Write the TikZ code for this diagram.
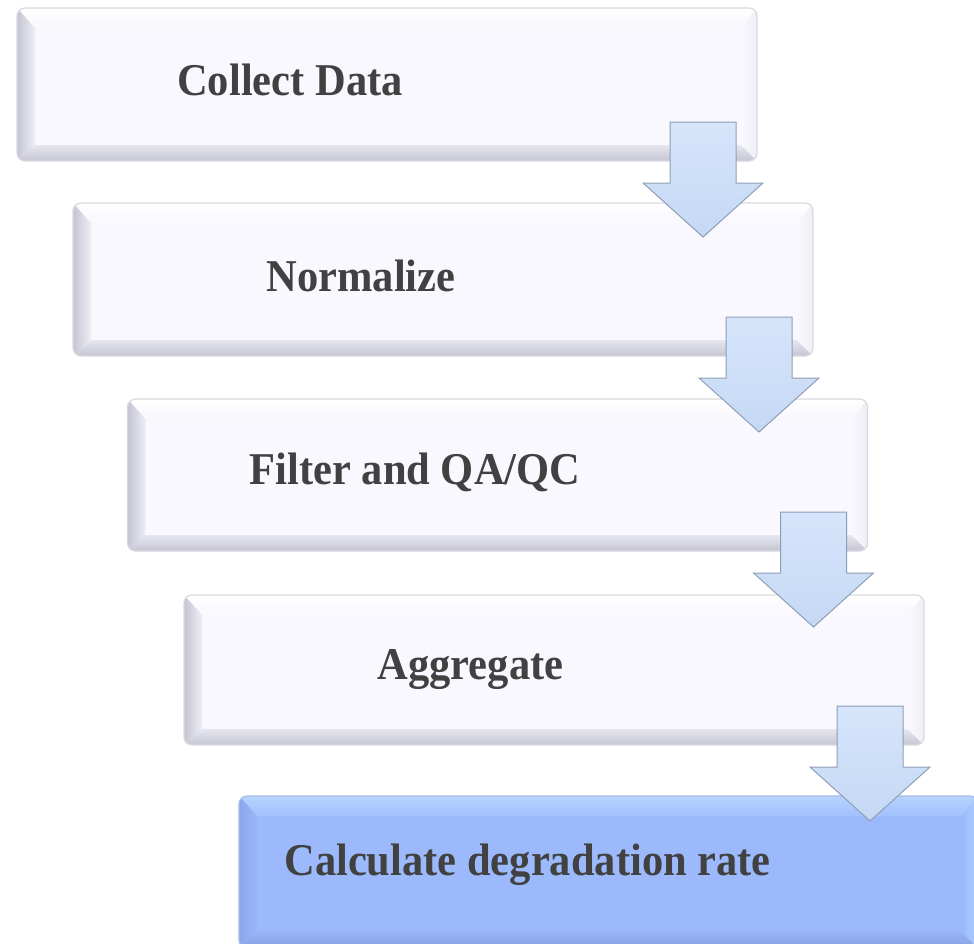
\documentclass[tikz,border=0pt]{standalone}
\usepackage{fontspec}
\setmainfont{Liberation Serif}
\usetikzlibrary{calc}

% lavender bevel palette for the ordinary steps
\definecolor{lavface}{HTML}{F8F8FE}
\definecolor{lavtopo}{HTML}{FFFFFF}
\definecolor{lavtopi}{HTML}{F8F8FE}
\definecolor{lavlefto}{HTML}{C4C4D4}
\definecolor{lavlefti}{HTML}{EEEEF5}
\definecolor{lavboto}{HTML}{C6C6D4}
\definecolor{lavboti}{HTML}{E6E6EF}
\definecolor{lavrighto}{HTML}{EEEEF5}
\definecolor{lavrighti}{HTML}{F8F8FE}
\definecolor{lavrim}{HTML}{D8D8E0}
% blue bevel palette for the final step
\definecolor{skyface}{HTML}{9BB9FB}
\definecolor{skytopo}{HTML}{B6D4FF}
\definecolor{skytopi}{HTML}{A2C0FC}
\definecolor{skylefto}{HTML}{8CA6EC}
\definecolor{skylefti}{HTML}{9AB7F8}
\definecolor{skyboto}{HTML}{88A0E4}
\definecolor{skyboti}{HTML}{98B4F6}
\definecolor{skyrighto}{HTML}{AECCFF}
\definecolor{skyrighti}{HTML}{9CBAFB}
\definecolor{skyrim}{HTML}{A6BCE8}
% block arrows and text
\definecolor{arrtop}{HTML}{D6E5FB}
\definecolor{arrbot}{HTML}{C5D8F4}
\definecolor{arredge}{HTML}{8E9EB6}
\definecolor{txt}{HTML}{414141}

\tikzset{
  boxnode/.style={inner sep=0pt, outer sep=0pt, minimum width=#1},
  boxnode/.default=740pt,
  steplabel/.style={anchor=base, inner sep=0pt, text=txt, yscale=1.07,
    font=\fontsize{42.5pt}{50pt}\selectfont\bfseries},
  blockarrow/.style={top color=arrtop, bottom color=arrbot,
    draw=arredge, line width=1pt, line join=miter},
}

% bevelled rounded panel drawn over the area of node #1, colours prefixed #2
\newcommand\bevelbox[2]{%
  \begin{scope}
    \clip[rounded corners=8pt] (#1.south west) rectangle (#1.north east);
    \fill[#2face] (#1.south west) rectangle (#1.north east);
    \shade[top color=#2topo, bottom color=#2topi]
      (#1.north west) -- (#1.north east) -- ($(#1.north east)+(-16,20)$)
      -- ($(#1.north west)+(18,20)$) -- cycle;
    \shade[left color=#2lefto, right color=#2lefti]
      (#1.north west) -- ($(#1.north west)+(18,20)$)
      -- ($(#1.south west)+(18,-16)$) -- (#1.south west) -- cycle;
    \shade[top color=#2boti, bottom color=#2boto]
      (#1.south west) -- ($(#1.south west)+(18,-16)$)
      -- ($(#1.south east)+(-16,-16)$) -- (#1.south east) -- cycle;
    \shade[left color=#2righti, right color=#2righto]
      (#1.north east) -- (#1.south east) -- ($(#1.south east)+(-16,-16)$)
      -- ($(#1.north east)+(-16,20)$) -- cycle;
  \end{scope}
  \draw[#2rim, line width=1.2pt, rounded corners=8pt]
    (#1.south west) rectangle (#1.north east);
}

% downward block arrow whose shaft top centre is coordinate #1
\newcommand\blockdown[1]{%
  \draw[blockarrow] ($(#1)+(-33,0)$) -- ($(#1)+(33,0)$) -- ($(#1)+(33,61)$)
    -- ($(#1)+(60,61)$) -- ($(#1)+(0,115)$) -- ($(#1)+(-60,61)$)
    -- ($(#1)+(-33,61)$) -- cycle;
}

\begin{document}
\begin{tikzpicture}[x=1pt, y=-1pt]
  \useasboundingbox (0,0) rectangle (974,943);

  % step panels
  \node[boxnode, minimum height=153pt] (b1) at (387,84.5) {};
  \node[boxnode, minimum height=153pt] (b2) at (443,279.5) {};
  \node[boxnode, minimum height=152pt] (b3) at (497.5,475) {};
  \node[boxnode, minimum height=150pt] (b4) at (554,670) {};
  \node[boxnode=739pt, minimum height=152pt] (b5) at (608.5,872) {};

  \bevelbox{b1}{lav}
  \bevelbox{b2}{lav}
  \bevelbox{b3}{lav}
  \bevelbox{b4}{lav}
  \bevelbox{b5}{sky}

  % block arrows between consecutive steps
  \coordinate (a1) at ($(b1.south east)+(-54,-39)$);
  \coordinate (a2) at ($(b2.south east)+(-54,-39)$);
  \coordinate (a3) at ($(b3.south east)+(-54,-39)$);
  \coordinate (a4) at ($(b4.south east)+(-54,-39)$);
  \blockdown{a1}
  \blockdown{a2}
  \blockdown{a3}
  \blockdown{a4}

  % step labels
  \node[steplabel] (t1) at (290,95) {Collect Data};
  \node[steplabel] (t2) at (361,291) {Normalize};
  \node[steplabel] (t3) at (415,484) {Filter and QA/QC};
  \node[steplabel] (t4) at (470.5,679) {Aggregate};
  \node[steplabel] (t5) at (527.5,875) {Calculate degradation rate};
\end{tikzpicture}
\end{document}
